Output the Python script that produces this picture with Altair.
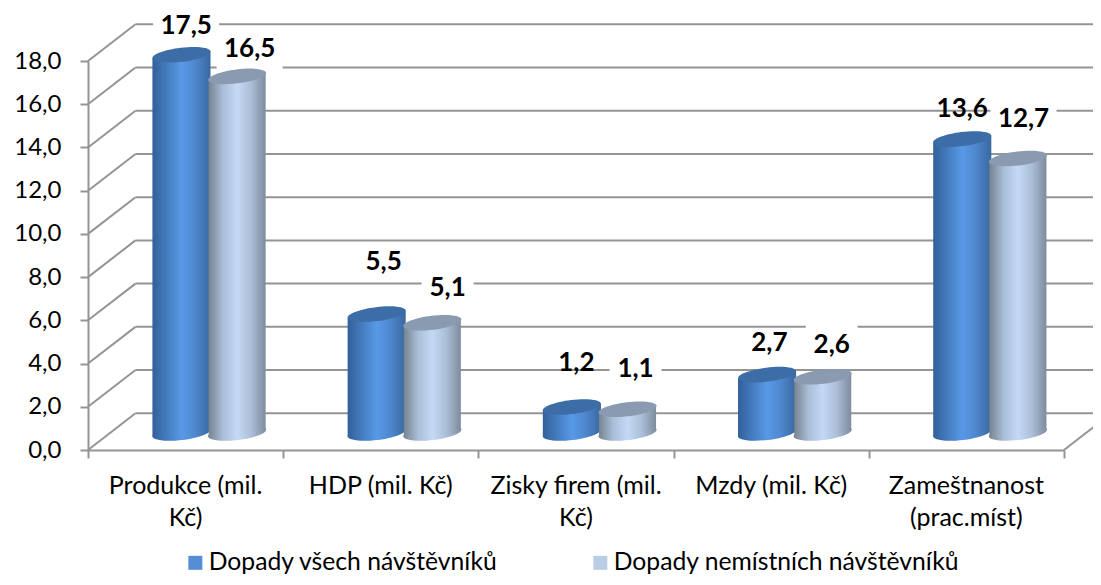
import altair as alt
import pandas as pd

categories = ["Produkce (mil.\nKč)", "HDP (mil. Kč)", "Zisky firem (mil.\nKč)", "Mzdy (mil. Kč)", "Zameštnanost\n(prac.míst)"]
series_names = ["Dopady všech návštěvníků", "Dopady nemístních návštěvníků"]
values_all = [17.5, 5.5, 1.2, 2.7, 13.6]
values_nonlocal = [16.5, 5.1, 1.1, 2.6, 12.7]
y_ticks = [0, 2, 4, 6, 8, 10, 12, 14, 16, 18]

# label nudges in pixels, as set by hand in the reference
label_dx = [[4.7, 7, 4.5, 2.3, 0], [12.5, 15.3, 8, 9, 5.6]]
label_dy = [[-29, -52, -44, -32, -30], [-27, -35, -40, -32, -40]]
label_box = [[66, 0, 0, 0, 0], [66, 52, 52, 52, 66]]

PX_X, PX_Y = 195.2, 21.6
DX, DY = 47.5 / PX_X, 36.7 / PX_Y
X_END = (1101 - 88.5) / PX_X
LIFT = 17 / PX_Y
TILT = 3.5 / PX_Y
FONT = "Lato"
GRID = "#949494"

xs = alt.Scale(domain=[0, 5], nice=False, zero=False)
ys = alt.Scale(domain=[0, 18], nice=False, zero=False)

AX = alt.Axis(values=[0, 1, 2, 3, 4, 5], labels=False, grid=False, title=None, tickSize=8,
              tickWidth=2, tickColor=GRID, domainColor=GRID, domainWidth=2)
AY = alt.Axis(values=y_ticks, grid=False, title=None, tickSize=8, tickWidth=2, tickColor=GRID,
              domainColor=GRID, domainWidth=2, labelFont=FONT, labelFontSize=24,
              labelColor="black", labelPadding=19,
              labelExpr="replace(format(datum.value,'.1f'),'.',',')")

def X(f):
    return alt.X(f, scale=xs, axis=AX, title=None)

def Y(f):
    return alt.Y(f, scale=ys, axis=AY, title=None)

lines = []
for v in y_ticks:
    lines.append(dict(x0=DX, x1=X_END, y0=v + DY, y1=v + DY))
    lines.append(dict(x0=0, x1=DX, y0=v, y1=v + DY))
lines.append(dict(x0=5, x1=X_END, y0=0, y1=DY * (X_END - 5) / DX))
wall = pd.DataFrame(lines)

bars = []
sides = []
spans = [(0.330, 0.6276), (0.618, 0.910)]
for s, vals in enumerate([values_all, values_nonlocal]):
    for i, v in enumerate(vals):
        a, b = i + spans[s][0], i + spans[s][1]
        c = (a + b) / 2
        bars.append(dict(s=s, c=c, y0=LIFT, y1=v + LIFT,
                         lx=c + label_dx[s][i] / PX_X,
                         ly=v + LIFT - label_dy[s][i] / PX_Y,
                         box=label_box[s][i],
                         text=f"{v:.1f}".replace(".", ",")))
        sides.append(dict(s=s, i=i, x=a, y0=LIFT - TILT, y1=v + LIFT - TILT))
        sides.append(dict(s=s, i=i, x=b, y0=LIFT + TILT, y1=v + LIFT + TILT))
bars = pd.DataFrame(bars)
sides = pd.DataFrame(sides)

cats = pd.DataFrame({"x": [i + 0.5 for i in range(5)], "t": categories, "y": 0})
legend_df = pd.DataFrame({"name": series_names, "x": [0, 0], "y": [0, 0]})

base = alt.Chart(wall).mark_rule(color=GRID, strokeWidth=2).encode(
    x=X("x0:Q"), x2="x1:Q", y=Y("y0:Q"), y2="y1:Q")

ELLIPSE = ("M-1,0C-1,-.13,-.55,-.24,0,-.24C.55,-.24,1,-.13,1,0"
           "C1,.13,.55,.24,0,.24C-.55,.24,-1,.13,-1,0Z")

def grad(stops):
    return alt.LinearGradient(gradient="linear", x1=0, x2=1, y1=0, y2=0,
                              stops=[alt.GradientStop(offset=o, color=c) for o, c in stops])

body = [
    grad([(0, "#32609a"), (0.5, "#5899e6"), (0.72, "#5088d0"), (1, "#38689f")]),
    grad([(0, "#77838f"), (0.25, "#a9bed8"), (0.5, "#c3d9f5"), (0.75, "#aabdd6"), (1, "#7d8b9d")]),
]
cap = ["#3d6da6", "#8a9bb1"]

layers = [base]

for w, h in [(66, 44), (52, 44)]:
    sub = bars[bars.box == w]
    hh = h / w
    path = f"M-1,-{hh:.3f}H1V{hh:.3f}H-1Z"
    layers.append(
        alt.Chart(sub).mark_point(shape=path, size=w * w, filled=True, fill="white",
                                  opacity=1, strokeWidth=0).encode(x=X("lx:Q"), y=Y("ly:Q"))
    )

for s in (0, 1):
    sub = bars[bars.s == s]
    layers.append(
        alt.Chart(sub).mark_point(shape=ELLIPSE, size=3420, angle=353, filled=True,
                                  fill=body[s], opacity=1, strokeWidth=0).encode(
            x=X("c:Q"), y=Y("y0:Q"))
    )
    layers.append(
        alt.Chart(sides[sides.s == s]).mark_area(fill=body[s], opacity=1, orient="vertical").encode(
            x=X("x:Q"), y=Y("y0:Q"), y2="y1:Q", detail="i:N")
    )
    layers.append(
        alt.Chart(sub).mark_point(shape=ELLIPSE, size=3420, angle=353, filled=True,
                                  fill=cap[s], opacity=1, strokeWidth=0).encode(
            x=X("c:Q"), y=Y("y1:Q"))
    )

layers.append(
    alt.Chart(bars).mark_text(font=FONT, fontSize=26, fontWeight="bold", color="black",
                              baseline="middle", align="center").encode(
        x=X("lx:Q"), y=Y("ly:Q"), text="text:N")
)
layers.append(
    alt.Chart(cats).mark_text(font=FONT, fontSize=25, color="black", align="center", baseline="top",
                              lineBreak="\n", lineHeight=32, dy=24).encode(
        x=X("x:Q"), y=Y("y:Q"), text="t:N")
)
layers.append(
    alt.Chart(legend_df).mark_square(size=0, opacity=1).encode(
        x=X("x:Q"), y=Y("y:Q"),
        color=alt.Color("name:N", sort=series_names,
                        scale=alt.Scale(domain=series_names, range=["#558ed5", "#b9cde5"]),
                        legend=alt.Legend(title=None, orient="none", legendX=95, legendY=489,
                                          direction="horizontal", symbolType="square", symbolSize=196,
                                          symbolOpacity=1, symbolStrokeWidth=0, labelFont=FONT,
                                          labelFontSize=24.7, labelColor="black", labelLimit=500,
                                          labelOffset=1, columnPadding=89)))
)

chart = alt.layer(*layers).properties(
    width=976, height=389,
    padding={"left": 80, "top": 53, "right": 29, "bottom": 127},
    autosize=alt.AutoSizeParams(type="none"),
    background="white",
).configure_view(stroke=None)

chart.save("out.html", embed_options={"renderer": "svg", "actions": False})
